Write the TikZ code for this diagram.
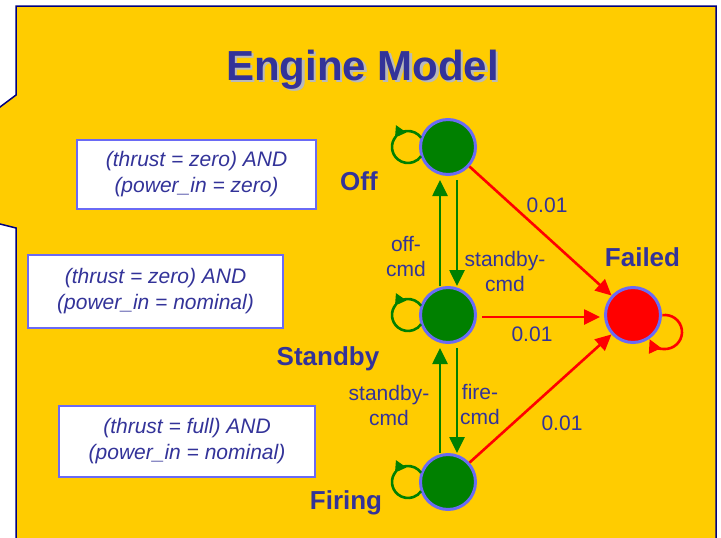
\documentclass[tikz,border=0pt]{standalone}
\usepackage{fontspec}
\setmainfont{Liberation Sans}
\usetikzlibrary{arrows.meta}
\definecolor{slide}{HTML}{FFCC00}
\definecolor{ink}{HTML}{333399}
\definecolor{rim}{HTML}{6A6AF5}
\definecolor{okgreen}{HTML}{008000}
\definecolor{navy}{HTML}{000080}

\begin{document}
\begin{tikzpicture}[x=1pt,y=1pt,
        every node/.style={text=ink,font=\fontsize{21}{25}\selectfont},
        st/.style={circle,draw=rim,line width=3pt,minimum size=55pt,inner sep=0pt},
        cond/.style={rectangle,draw=rim,line width=2.5pt,fill=white,align=center,
            font=\fontsize{21}{26}\selectfont\itshape},
        tag/.style={anchor=base,font=\fontsize{26}{30}\selectfont\bfseries},
        lbl/.style={align=center},
        go/.style={draw=okgreen,line width=2.6pt,-{Triangle[length=16pt,width=15pt]}},
        bad/.style={draw=red,line width=2.6pt,-{Triangle[length=16pt,width=15pt]}},
        loopgo/.style={draw=okgreen,line width=2.6pt},
        loopbad/.style={draw=red,line width=2.6pt}]
        \useasboundingbox (0,0) rectangle (721,-538);

        % slide background
        \draw[fill=slide,draw=navy,line width=1.5pt] (16,-6) -- (716,-6) -- (716,-560) -- (16,-560)
            -- (16,-228) -- (-5,-222.75) -- (-5,-110.75) -- (16,-95) -- cycle;

        % title
        \node[anchor=base,text=gray!55,font=\fontsize{42}{48}\selectfont\bfseries] (titleshadow) at (365,-82.5) {Engine Model};
        \node[anchor=base,font=\fontsize{42}{48}\selectfont\bfseries] (title) at (362.5,-80) {Engine Model};

        % states
        \node[st,fill=okgreen] (off) at (448,-147) {};
        \node[st,fill=okgreen] (stb) at (448,-315) {};
        \node[st,fill=okgreen] (fire) at (448,-482) {};
        \node[st,fill=red] (fail) at (633,-315) {};

        % state names
        \node[tag] (offname) at (359,-190) {Off};
        \node[tag] (stbname) at (328,-365) {Standby};
        \node[tag] (firename) at (346,-509) {Firing};
        \node[tag] (failname) at (642.5,-266) {Failed};

        % conditions
        \node[cond,minimum width=239pt,minimum height=69pt] (offcond) at (196.5,-174.5)
            {(thrust = zero) AND\\(power\_in = zero)};
        \node[cond,minimum width=255pt,minimum height=73pt] (stbcond) at (155.5,-291.5)
            {(thrust = zero) AND\\(power\_in = nominal)};
        \node[cond,minimum width=256pt,minimum height=71pt] (firecond) at (187,-441.5)
            {(thrust = full) AND\\(power\_in = nominal)};

        % commands
        \draw[go] ([shift={(9,-4)}]off.south) -- ([xshift=9pt]stb.north);
        \draw[go] ([xshift=-8pt]stb.north) -- ([shift={(-8,-4)}]off.south);
        \draw[go] ([shift={(9,-4)}]stb.south) -- ([xshift=9pt]fire.north);
        \draw[go] ([xshift=-8pt]fire.north) -- ([shift={(-8,-4)}]stb.south);
        \node[lbl] (offcmd) at (406,-257) {off-\\cmd};
        \node[lbl] (stbcmda) at (505,-271) {standby-\\cmd};
        \node[lbl] (stbcmdb) at (389,-405) {standby-\\cmd};
        \node[lbl] (firecmd) at (480,-404) {fire-\\cmd};

        % failures
        \draw[bad] (off) -- (fail);
        \draw[bad] ([shift={(5,-2)}]stb.east) -- ([shift={(-4,-2)}]fail.west);
        \draw[bad] (fire) -- (fail);
        \node (offfail) at (547,-205) {0.01};
        \node (stbfail) at (532,-334) {0.01};
        \node (firefail) at (562,-423) {0.01};

        % self loops
        \draw[loopgo,-{Triangle[length=11pt,width=12pt]}] ([xshift=-40pt]off.center) ++(35:16) arc[start angle=35,end angle=145,radius=16];
        \draw[loopgo] ([xshift=-40pt]off.center) ++(140:16) arc[start angle=140,end angle=325,radius=16];
        \draw[loopgo,-{Triangle[length=11pt,width=12pt]}] ([xshift=-40pt]stb.center) ++(35:16) arc[start angle=35,end angle=145,radius=16];
        \draw[loopgo] ([xshift=-40pt]stb.center) ++(140:16) arc[start angle=140,end angle=325,radius=16];
        \draw[loopgo,-{Triangle[length=11pt,width=12pt]}] ([xshift=-40pt]fire.center) ++(35:16) arc[start angle=35,end angle=145,radius=16];
        \draw[loopgo] ([xshift=-40pt]fire.center) ++(140:16) arc[start angle=140,end angle=325,radius=16];
        \draw[loopbad,-{Triangle[length=13pt,width=13pt]}] ([shift={(32,-17)}]fail.center) ++(99:17) arc[start angle=99,end angle=-155,radius=17];
    \end{tikzpicture}
\end{document}
